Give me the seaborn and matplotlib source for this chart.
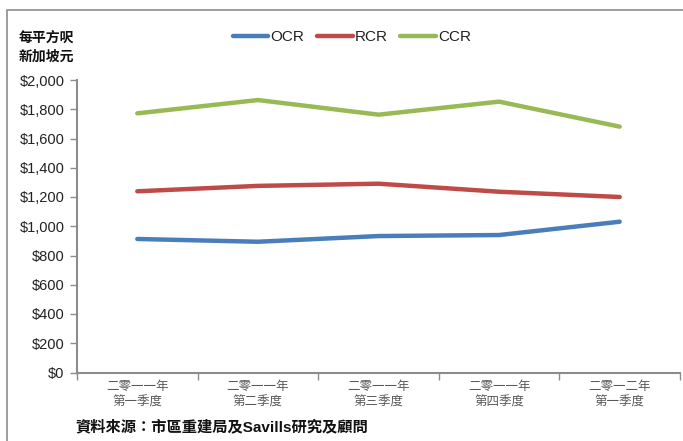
import matplotlib
matplotlib.use("Agg")
import matplotlib.pyplot as plt
from matplotlib.patches import Rectangle
from matplotlib.ticker import FixedLocator, FuncFormatter
import numpy as np
import pandas as pd
import seaborn as sns

# Quarterly average price per square foot (S$) by region
quarters = ["二零一一年\n第一季度", "二零一一年\n第二季度", "二零一一年\n第三季度",
            "二零一一年\n第四季度", "二零一二年\n第一季度"]
regions = ["OCR", "RCR", "CCR"]
ocr = [913, 894, 933, 940, 1031]
rcr = [1239, 1276, 1291, 1236, 1200]
ccr = [1772, 1863, 1763, 1852, 1681]
colors = {"OCR": "#4A7EBB", "RCR": "#BE4B48", "CCR": "#98B954"}

df = pd.DataFrame({
    "pos": list(range(len(quarters))) * 3,
    "region": [r for r in regions for _ in quarters],
    "price": ocr + rcr + ccr,
})

sns.set_theme(style="white")
plt.rcParams["font.family"] = ["Liberation Sans", "Noto Sans CJK TC", "DejaVu Sans"]

W, H = 683, 441
fig = plt.figure(figsize=(W / 100, H / 100), dpi=100)
fig.patch.set_facecolor("white")

# outer chart frame
fig.add_artist(Rectangle((7 / W, -0.1), 1.2, (H - 10) / H + 0.1, transform=fig.transFigure,
                         fill=False, edgecolor="#8C8C8C", linewidth=1.2))

ax = fig.add_axes([77 / W, 1 - 372.5 / H, (680 - 77) / W, (372.5 - 80) / H])
sns.lineplot(data=df, x="pos", y="price", hue="region", hue_order=regions,
             palette=colors, linewidth=3.2, ax=ax, legend=False)

ax.set_xlim(-0.5, len(quarters) - 0.5)
ax.set_ylim(0, 2000)
ax.set_yticks(np.arange(0, 2001, 200))
ax.yaxis.set_major_formatter(FuncFormatter(lambda v, p: f"${v:,.0f}"))
ax.tick_params(axis="y", which="major", direction="out", length=5, width=1,
               color="#8C8C8C", labelsize=10.5, labelcolor="#222222", pad=4, left=True)

# category boundaries carry the tick marks, centers carry the labels
ax.xaxis.set_major_locator(FixedLocator(np.arange(-0.5, len(quarters), 1.0)))
ax.xaxis.set_major_formatter(FuncFormatter(lambda v, p: ""))
ax.xaxis.set_minor_locator(FixedLocator(np.arange(len(quarters))))
ax.set_xticklabels(quarters, minor=True)
ax.tick_params(axis="x", which="major", direction="out", length=5, width=1,
               color="#8C8C8C", bottom=True)
ax.tick_params(axis="x", which="minor", length=0, labelsize=9, labelcolor="#595959", pad=6)
for lab in ax.get_xticklabels(minor=True):
    lab.set_linespacing(1.35)

for side in ["top", "right"]:
    ax.spines[side].set_visible(False)
for side in ["left", "bottom"]:
    ax.spines[side].set_color("#8C8C8C")
    ax.spines[side].set_linewidth(1.5)
ax.set_xlabel("")
ax.set_ylabel("")

fig.text(19 / W, 1 - 47 / H, "每平方呎\n新加坡元", fontsize=10, fontweight="bold",
         color="#111111", va="center", ha="left", linespacing=1.45)

handles = [plt.Line2D([], [], color=colors[r], linewidth=3.2) for r in regions]
fig.legend(handles, regions, loc="center", bbox_to_anchor=(352 / W, 1 - 37 / H), ncol=3,
           frameon=False, fontsize=11, handlelength=2.35, handletextpad=0.15,
           columnspacing=0.8, labelcolor="#222222")

fig.text(75 / W, 1 - 427 / H, "資料來源：市區重建局及Savills研究及顧問", fontsize=11,
         fontweight="bold", color="#111111", va="center", ha="left")

fig.savefig("out.png", dpi=100)
